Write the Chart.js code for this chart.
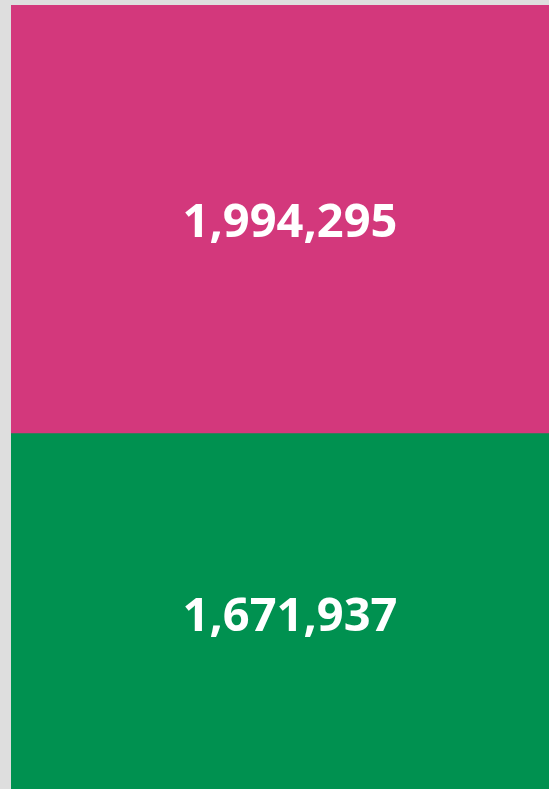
<!DOCTYPE html>
<html>
<head>
<meta charset="utf-8">
<script src="https://cdn.jsdelivr.net/npm/chart.js@4/dist/chart.umd.min.js"></script>
<style>
  html, body { margin: 0; padding: 0; background: #dedede; overflow: hidden; width: 549px; height: 789px; }
  #wrap { position: absolute; left: 11px; top: 5px; width: 558px; height: 788px; }
</style>
</head>
<body>
<div id="wrap"><canvas id="chart"></canvas></div>
<script>
const categories = [''];
const seriesNames = ['Bottom', 'Top'];
const bottomValues = [1671937];
const topValues = [1994295];
const colors = ['#009150', '#d3387c'];

// labels drawn in the middle of each segment
const centerLabels = {
    id: 'centerLabels',
    afterDatasetsDraw(chart) {
        const c = chart.ctx;
        c.save();
        c.fillStyle = '#ffffff';
        c.font = 'bold 47px "Open Sans", sans-serif';
        c.textAlign = 'center';
        c.textBaseline = 'middle';
        chart.data.datasets.forEach((ds, i) => {
            chart.getDatasetMeta(i).data.forEach((bar, j) => {
                const p = bar.getProps(['x', 'y', 'base'], true);
                c.fillText(ds.data[j].toLocaleString('en-US'), p.x, (p.y + p.base) / 2 + 4);
            });
        });
        c.restore();
    }
};

new Chart(document.getElementById('chart'), {
    type: 'bar',
    data: {
        labels: categories,
        datasets: [
            { label: seriesNames[0], data: bottomValues, backgroundColor: colors[0] },
            { label: seriesNames[1], data: topValues, backgroundColor: colors[1] }
        ]
    },
    options: {
        responsive: true,
        maintainAspectRatio: false,
        animation: false,
        layout: { padding: 0 },
        datasets: { bar: { barPercentage: 1, categoryPercentage: 1, borderWidth: 0 } },
        scales: {
            x: { stacked: true, display: false },
            y: { stacked: true, display: false, min: 0, max: topValues[0] + bottomValues[0] }
        },
        plugins: { legend: { display: false }, tooltip: { enabled: false } }
    },
    plugins: [centerLabels]
});
</script>
</body>
</html>
